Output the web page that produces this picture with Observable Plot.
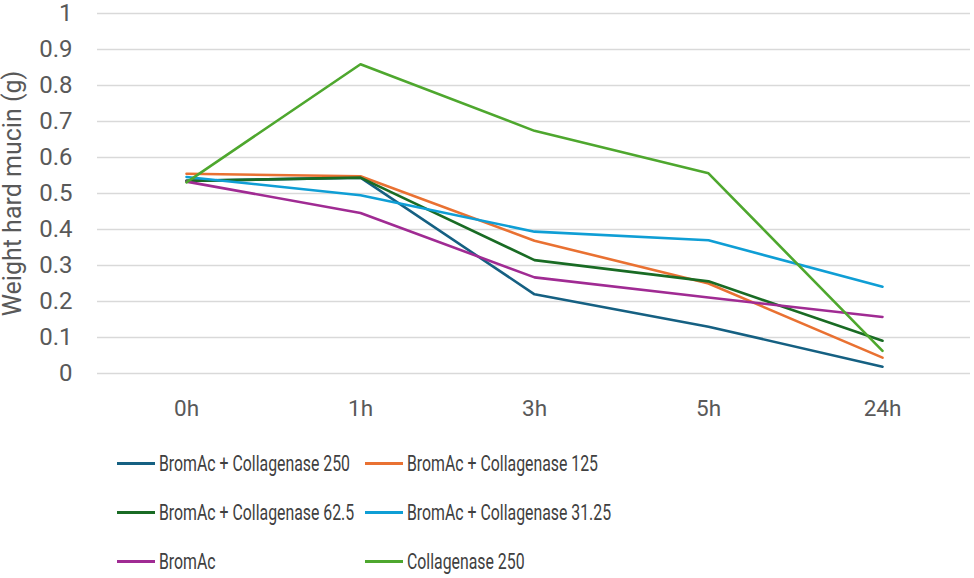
<!DOCTYPE html>
<html>
<head>
<meta charset="utf-8">
<script src="https://cdn.jsdelivr.net/npm/d3@7"></script>
<script src="https://cdn.jsdelivr.net/npm/@observablehq/plot@0.6"></script>
<style>
  html, body { margin: 0; padding: 0; background: #fff; }
  #wrap { position: relative; width: 974px; height: 578px; }
  #chart svg { overflow: visible; }
  #legend { position: absolute; left: 0; top: 0; width: 974px; }
  .item { position: absolute; display: flex; align-items: center; font-family: Roboto, sans-serif; font-size: 22px; color: #404040; white-space: nowrap; }
  .sw { width: 38px; height: 3px; margin-right: 4px; flex: none; }
  .lbl { display: inline-block; transform: scaleX(0.72); transform-origin: left center; }
</style>
</head>
<body>
<div id="wrap">
  <div id="chart"></div>
  <div id="legend"></div>
</div>
<script>
const times = ["0h", "1h", "3h", "5h", "24h"];
const seriesNames = [
  "BromAc + Collagenase 250",
  "BromAc + Collagenase 125",
  "BromAc + Collagenase 62.5",
  "BromAc + Collagenase 31.25",
  "BromAc",
  "Collagenase 250"
];
const colors = ["#156082", "#E97132", "#196B24", "#0F9ED5", "#A02B93", "#4EA72E"];
const bromac250 = [0.535, 0.544, 0.220, 0.130, 0.019];
const bromac125 = [0.555, 0.548, 0.369, 0.250, 0.044];
const bromac625 = [0.535, 0.544, 0.315, 0.256, 0.091];
const bromac3125 = [0.546, 0.495, 0.394, 0.370, 0.241];
const bromac = [0.533, 0.446, 0.267, 0.211, 0.157];
const collagenase250 = [0.531, 0.859, 0.674, 0.556, 0.063];
const yTicks = [0, 0.1, 0.2, 0.3, 0.4, 0.5, 0.6, 0.7, 0.8, 0.9, 1];

const seriesValues = [bromac250, bromac125, bromac625, bromac3125, bromac, collagenase250];
const data = [];
seriesNames.forEach((s, i) => times.forEach((t, j) => data.push({series: s, time: t, value: seriesValues[i][j]})));

const chart = Plot.plot({
  width: 974,
  height: 430,
  marginLeft: 97,
  marginRight: 4,
  marginTop: 13,
  marginBottom: 57,
  style: {fontFamily: "Roboto, 'Liberation Sans', sans-serif", fontSize: "24px", color: "#595959", background: "#fff"},
  x: {type: "point", domain: times, padding: 0.5},
  y: {domain: [0, 1]},
  color: {domain: seriesNames, range: colors},
  marks: [
    Plot.gridY(yTicks, {stroke: "#d9d9d9", strokeOpacity: 1, strokeWidth: 1.5}),
    Plot.axisY(yTicks, {tickSize: 0, tickPadding: 25, tickFormat: d => String(d), label: null, fontSize: 24, fill: "#595959"}),
    Plot.axisY({tickSize: 0, ticks: [], label: "Weight hard mucin (g)", labelAnchor: "center", labelArrow: "none", labelOffset: 94, fontSize: 25, fill: "#595959"}),
    Plot.axisX({tickSize: 0, tickPadding: 27, label: null, fontSize: 22.5, fill: "#595959"}),
    Plot.lineY(data, {x: "time", y: "value", z: "series", stroke: "series", strokeWidth: 2.6})
  ]
});
document.getElementById("chart").appendChild(chart);

const legend = document.getElementById("legend");
const rowsY = [463, 512, 561];
const colsX = [117, 365];
seriesNames.forEach((s, i) => {
  const el = document.createElement("div");
  el.className = "item";
  el.style.left = colsX[i % 2] + "px";
  el.style.top = (rowsY[Math.floor(i / 2)] - 13) + "px";
  el.style.height = "26px";
  el.innerHTML = `<div class="sw" style="background:${colors[i]}"></div><span class="lbl">${s}</span>`;
  legend.appendChild(el);
});
</script>
</body>
</html>
